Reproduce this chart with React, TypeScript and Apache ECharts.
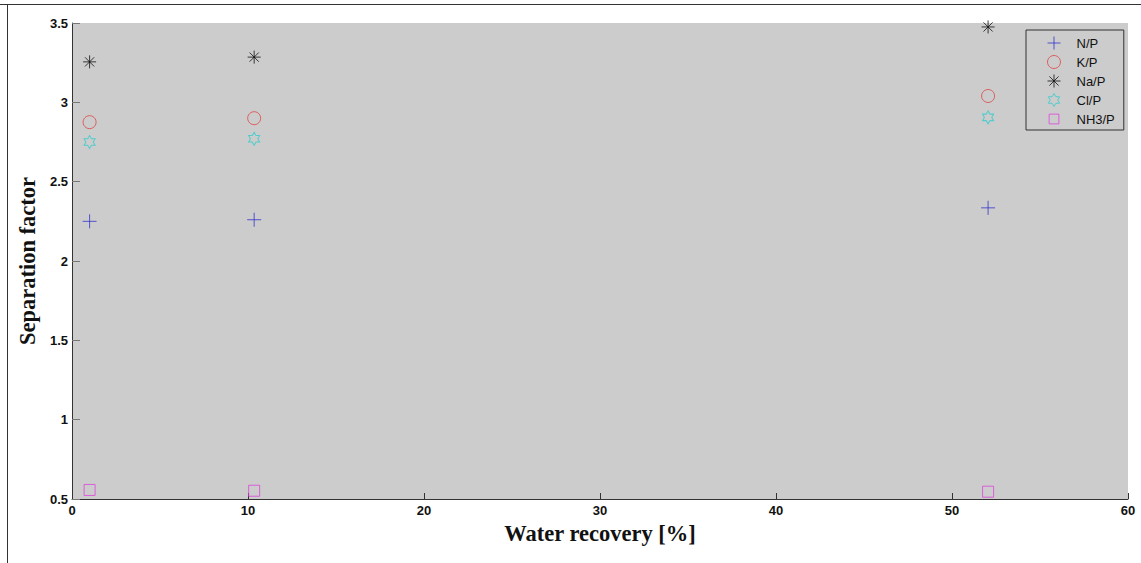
import React, { useEffect, useRef } from "react";
import * as echarts from "echarts";

// Water recovery (%) at which each sample was taken
const recovery = [1.0, 10.35, 52.05];

// Separation factors per ion ratio
const nP = [2.25, 2.26, 2.335];
const kP = [2.875, 2.9, 3.04];
const naP = [3.255, 3.285, 3.475];
const clP = [2.75, 2.77, 2.905];
const nh3P = [0.557, 0.552, 0.546];

const seriesNames = ["N/P", "K/P", "Na/P", "Cl/P", "NH3/P"];

// Marker outlines
const PLUS = "path://M-10,0L10,0M0,-10L0,10";
const ASTERISK = "path://M-10,0L10,0M0,-10L0,10M-7.07,-7.07L7.07,7.07M-7.07,7.07L7.07,-7.07";
const HEXAGRAM =
  "path://M0,-1000L289,-500L866,-500L577,0L866,500L289,500L0,1000L-289,500L-866,500L-577,0L-866,-500L-289,-500Z";
// Square legend icon drawn slightly smaller than its slot
const SMALL_SQUARE = "path://M-9,-9L9,-9L9,9L-9,9Z M-12,-12 M12,12";

const toPairs = (ys: number[]) => recovery.map((x, i) => [x, ys[i]]);

export default function App() {
  const ref = useRef<HTMLDivElement>(null);

  useEffect(() => {
    document.body.style.margin = "0";
    if (!ref.current) return;
    const chart = echarts.init(ref.current, null, { renderer: "svg" });

    const mk = (
      name: string,
      ys: number[],
      symbol: string,
      color: string,
      size: number | number[]
    ) => ({
      name,
      type: "scatter",
      data: toPairs(ys),
      symbol,
      symbolSize: size,
      itemStyle: { color: "transparent", borderColor: color, borderWidth: 1 },
      emphasis: { disabled: true },
    });

    const labelFont = {
      fontFamily: "Liberation Sans, Arial, sans-serif",
      fontWeight: "bold" as const,
      fontSize: 13,
      color: "#111",
    };
    const nameFont = {
      fontFamily: "Liberation Serif, Times New Roman, serif",
      fontWeight: "bold" as const,
      fontSize: 22.5,
      color: "#111",
    };

    chart.setOption({
      animation: false,
      grid: {
        left: 72,
        top: 23,
        right: 13,
        bottom: 64,
        show: true,
        backgroundColor: "#cccccc",
        borderWidth: 0,
      },
      xAxis: {
        type: "value",
        min: 0,
        max: 60,
        interval: 10,
        name: "Water recovery [%]",
        nameLocation: "middle",
        nameGap: 22,
        nameTextStyle: nameFont,
        axisLine: { show: true, onZero: false, lineStyle: { color: "#333", width: 1 } },
        axisTick: { show: true, inside: true, length: 6, lineStyle: { color: "#333" } },
        axisLabel: { ...labelFont, margin: 5 },
        splitLine: { show: false },
      },
      yAxis: {
        type: "value",
        min: 0.5,
        max: 3.5,
        interval: 0.5,
        name: "Separation factor",
        nameLocation: "middle",
        nameGap: 29,
        nameTextStyle: nameFont,
        axisLine: { show: true, onZero: false, lineStyle: { color: "#333", width: 1 } },
        axisTick: { show: true, inside: true, length: 8, lineStyle: { color: "#777" } },
        axisLabel: { ...labelFont, margin: 4 },
        splitLine: { show: false },
      },
      legend: {
        orient: "vertical",
        left: 1026,
        top: 30,
        itemWidth: 13,
        itemHeight: 13,
        itemGap: 5,
        padding: [6, 9, 4, 21],
        backgroundColor: "#cccccc",
        borderColor: "#333",
        borderWidth: 1,
        borderRadius: 0,
        selectedMode: false,
        data: [
          seriesNames[0],
          seriesNames[1],
          seriesNames[2],
          seriesNames[3],
          { name: seriesNames[4], icon: SMALL_SQUARE },
        ],
        itemStyle: { borderWidth: 1 },
        textStyle: {
          fontFamily: "Liberation Sans, Arial, sans-serif",
          fontSize: 13,
          color: "#111",
          padding: [0, 0, 0, 11],
        },
      },
      series: [
        mk(seriesNames[0], nP, PLUS, "#3333cc", 14),
        mk(seriesNames[1], kP, "circle", "#dd4444", 13),
        mk(seriesNames[2], naP, ASTERISK, "#111111", 13),
        mk(seriesNames[3], clP, HEXAGRAM, "#33cccc", [11, 13]),
        mk(seriesNames[4], nh3P, "rect", "#dd44dd", 11),
      ],
      graphic: [
        {
          type: "line",
          shape: { x1: 0, y1: 4.5, x2: 1141, y2: 4.5 },
          style: { stroke: "#333", lineWidth: 1 },
          silent: true,
        },
        {
          type: "line",
          shape: { x1: 7.5, y1: 4.5, x2: 7.5, y2: 563 },
          style: { stroke: "#333", lineWidth: 1 },
          silent: true,
        },
      ],
    });

    return () => chart.dispose();
  }, []);

  return <div ref={ref} style={{ width: 1141, height: 563 }} />;
}
